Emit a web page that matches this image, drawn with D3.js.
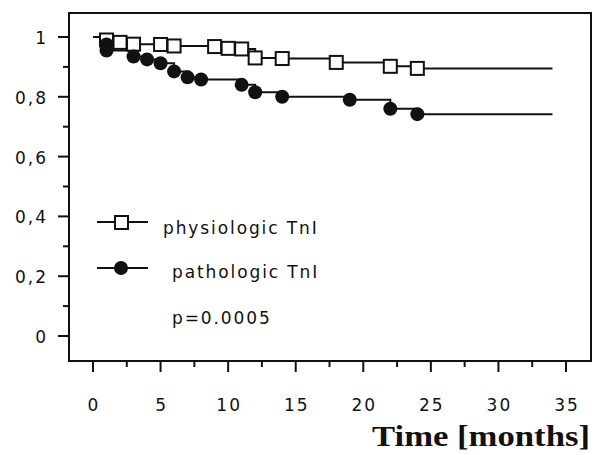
<!DOCTYPE html>
<html>
<head>
<meta charset="utf-8">
<script src="https://cdn.jsdelivr.net/npm/d3@7"></script>
<style>
  html, body { margin: 0; padding: 0; background: #fff; }
  svg { display: block; }
  .tick-label { font-family: "DejaVu Sans", sans-serif; font-size: 17px; letter-spacing: 2px; fill: #111; }
  .legend-text { font-family: "DejaVu Sans", sans-serif; font-size: 17px; letter-spacing: 1.9px; fill: #111; }
</style>
</head>
<body>
<svg width="598" height="455"></svg>
<script>
// survival data (Kaplan-Meier)
const physioTimes  = [0, 1, 2, 3, 5, 6, 9, 10, 11, 12, 14, 18, 22, 24]
const physioValues = [1, 0.99, 0.982, 0.976, 0.975, 0.97, 0.968, 0.962, 0.96, 0.93, 0.928, 0.915, 0.902, 0.895]
const pathoTimes  = [0, 1, 1, 3, 4, 5, 6, 7, 8, 11, 12, 14, 19, 22, 24]
const pathoValues = [1, 0.975, 0.955, 0.935, 0.925, 0.912, 0.885, 0.865, 0.858, 0.84, 0.815, 0.80, 0.79, 0.76, 0.742]
const followUpEnd = 34

const xTicks = [0, 5, 10, 15, 20, 25, 30, 35]
const xMinorTicks = [2.5, 7.5, 12.5, 17.5, 22.5, 27.5, 32.5]
const yTicks = [0, 0.2, 0.4, 0.6, 0.8, 1]
const yMinorTicks = [0.1, 0.3, 0.5, 0.7, 0.9]
const yTickLabels = ["0", "0,2", "0,4", "0,6", "0,8", "1"]

const svg = d3.select("svg")

const x = d3.scaleLinear().domain([0, 35]).range([93, 566])
const y = d3.scaleLinear().domain([0, 1]).range([336, 37])

const frame = {left: 69, top: 13, right: 591, bottom: 361}

// frame
svg.append("rect")
    .attr("x", frame.left).attr("y", frame.top)
    .attr("width", frame.right - frame.left)
    .attr("height", frame.bottom - frame.top)
    .attr("fill", "none").attr("stroke", "#111").attr("stroke-width", 2)

// y ticks
const yAxis = svg.append("g")
yAxis.selectAll("line.major").data(yTicks).join("line")
    .attr("class", "major")
    .attr("x1", frame.left - 11).attr("x2", frame.left)
    .attr("y1", d => y(d)).attr("y2", d => y(d))
    .attr("stroke", "#111").attr("stroke-width", 2)
yAxis.selectAll("line.minor").data(yMinorTicks).join("line")
    .attr("class", "minor")
    .attr("x1", frame.left - 6).attr("x2", frame.left)
    .attr("y1", d => y(d)).attr("y2", d => y(d))
    .attr("stroke", "#111").attr("stroke-width", 2)
yAxis.selectAll("text").data(yTicks).join("text")
    .attr("class", "tick-label")
    .attr("x", 48).attr("y", d => y(d) + 1)
    .attr("text-anchor", "end")
    .attr("dominant-baseline", "central")
    .text((d, i) => yTickLabels[i])

// x ticks
const xAxis = svg.append("g")
xAxis.selectAll("line.major").data(xTicks).join("line")
    .attr("class", "major")
    .attr("x1", d => x(d)).attr("x2", d => x(d))
    .attr("y1", frame.bottom).attr("y2", frame.bottom + 11)
    .attr("stroke", "#111").attr("stroke-width", 2)
xAxis.selectAll("line.minor").data(xMinorTicks).join("line")
    .attr("class", "minor")
    .attr("x1", d => x(d)).attr("x2", d => x(d))
    .attr("y1", frame.bottom).attr("y2", frame.bottom + 6)
    .attr("stroke", "#111").attr("stroke-width", 2)
xAxis.selectAll("text").data(xTicks).join("text")
    .attr("class", "tick-label")
    .attr("x", d => x(d) + 1).attr("y", 405)
    .attr("text-anchor", "middle")
    .attr("dominant-baseline", "central")
    .text(d => d)

svg.append("text")
    .attr("x", 590).attr("y", 446)
    .attr("text-anchor", "end")
    .attr("font-family", "Liberation Serif, serif")
    .attr("font-weight", "bold")
    .attr("font-size", 30)
    .attr("textLength", 218)
    .attr("lengthAdjust", "spacingAndGlyphs")
    .attr("fill", "#111")
    .text("Time [months]")

// step curves
function stepData(times, values) {
    const pts = times.map((t, i) => [t, values[i]])
    pts.push([followUpEnd, values[values.length - 1]])
    return pts
}

const line = d3.line()
    .x(d => x(d[0]))
    .y(d => y(d[1]))
    .curve(d3.curveStepAfter)

svg.append("path")
    .datum(stepData(physioTimes, physioValues))
    .attr("d", line)
    .attr("fill", "none").attr("stroke", "#111").attr("stroke-width", 2)

svg.append("path")
    .datum(stepData(pathoTimes, pathoValues))
    .attr("d", line)
    .attr("fill", "none").attr("stroke", "#111").attr("stroke-width", 2)

// markers (skip the t=0 start point)
svg.append("g").selectAll("rect")
    .data(physioTimes.slice(1).map((t, i) => [t, physioValues[i + 1]]))
    .join("rect")
    .attr("x", d => x(d[0]) - 6.5).attr("y", d => y(d[1]) - 6.5)
    .attr("width", 13).attr("height", 13)
    .attr("fill", "#fff").attr("stroke", "#111").attr("stroke-width", 2)

svg.append("g").selectAll("circle")
    .data(pathoTimes.slice(1).map((t, i) => [t, pathoValues[i + 1]]))
    .join("circle")
    .attr("cx", d => x(d[0])).attr("cy", d => y(d[1]))
    .attr("r", 7)
    .attr("fill", "#111")

// legend
const legend = svg.append("g")
legend.append("line")
    .attr("x1", 97).attr("x2", 148).attr("y1", 222).attr("y2", 222)
    .attr("stroke", "#111").attr("stroke-width", 2)
legend.append("rect")
    .attr("x", 115).attr("y", 216).attr("width", 13).attr("height", 13)
    .attr("fill", "#fff").attr("stroke", "#111").attr("stroke-width", 2)
legend.append("text")
    .attr("class", "legend-text")
    .attr("x", 163).attr("y", 228)
    .attr("dominant-baseline", "central")
    .text("physiologic TnI")

legend.append("line")
    .attr("x1", 97).attr("x2", 148).attr("y1", 268).attr("y2", 268)
    .attr("stroke", "#111").attr("stroke-width", 2)
legend.append("circle")
    .attr("cx", 121).attr("cy", 268).attr("r", 7)
    .attr("fill", "#111")
legend.append("text")
    .attr("class", "legend-text")
    .attr("x", 172).attr("y", 272)
    .attr("dominant-baseline", "central")
    .text("pathologic TnI")

legend.append("text")
    .attr("class", "legend-text")
    .attr("x", 172).attr("y", 318)
    .attr("dominant-baseline", "central")
    .text("p=0.0005")
</script>
</body>
</html>
